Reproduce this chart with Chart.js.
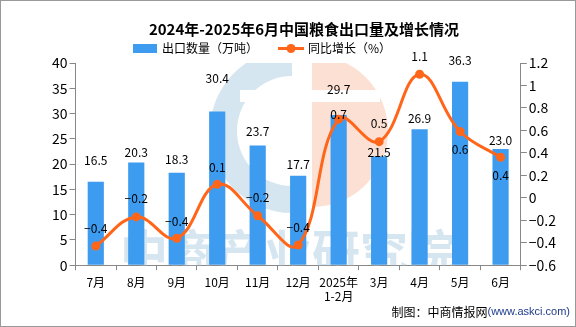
<!DOCTYPE html>
<html>
<head>
<meta charset="utf-8">
<script src="https://cdn.jsdelivr.net/npm/chart.js@4.4.1/dist/chart.umd.min.js"></script>
<style>
  html, body { margin: 0; padding: 0; background: #fff; }
</style>
</head>
<body>
<canvas id="grafico" width="576" height="327"></canvas>
<script>
// dados
const meses = ['7月', '8月', '9月', '10月', '11月', '12月', ['2025年', '1-2月'], '3月', '4月', '5月', '6月'];
const exportacao = [16.5, 20.3, 18.3, 30.4, 23.7, 17.7, 29.7, 21.5, 26.9, 36.3, 23.0];
const crescimento = [-0.43, -0.17, -0.36, 0.12, -0.16, -0.42, 0.70, 0.50, 1.10, 0.59, 0.36];
const legendas = ['出口数量（万吨）', '同比增长（%）'];

// deslocamento vertical dos rótulos (px, relativo ao topo da barra / ao ponto)
const desvioBarra = [15, 4, 7, 27, 8, 5, 20, -2, 5, 15, 2];
const desvioLinha = [-18, -18, -17, -17, -18, -18, -5, -18, -18, 18, 18];

const corBarra = '#3D9CF0';
const corLinha = '#FF6619';
const fonte = '"Noto Sans CJK SC", "Noto Sans", sans-serif';
const menos = s => s.replace('-', '\u2212');

const marcaDagua = {
  id: 'marcaDagua',
  beforeDatasetsDraw(chart) {
    const { ctx, chartArea: a } = chart;
    ctx.save();
    ctx.beginPath();
    ctx.rect(a.left, a.top, a.right - a.left, a.bottom - a.top);
    ctx.clip();
    // logo
    ctx.fillStyle = '#D6E6F0';
    ctx.beginPath();
    ctx.arc(292, 131, 82, Math.PI / 2, Math.PI * 1.5);
    ctx.arc(292, 131, 55, Math.PI * 1.5, Math.PI / 2, true);
    ctx.fill();
    ctx.fillStyle = '#FCE0D3';
    ctx.beginPath();
    ctx.arc(312, 131, 76, -Math.PI / 2, Math.PI / 2);
    ctx.fill();
    ctx.fillStyle = '#fff';
    ctx.fillRect(240, 90, 140, 12);
    // texto
    ctx.fillStyle = 'rgba(200,222,236,0.75)';
    ctx.font = 'bold 48px ' + fonte;
    ctx.textAlign = 'center';
    ctx.textBaseline = 'top';
    ctx.fillText('中商产业研究院', 288, 228);
    ctx.restore();
  }
};

const rotulos = {
  id: 'rotulos',
  afterDatasetsDraw(chart) {
    const { ctx } = chart;
    ctx.save();
    ctx.font = '12px ' + fonte;
    ctx.fillStyle = '#000';
    ctx.textAlign = 'center';
    ctx.textBaseline = 'middle';
    chart.getDatasetMeta(0).data.forEach((bar, i) => {
      ctx.fillText(exportacao[i].toFixed(1), bar.x, bar.y - 6 - desvioBarra[i]);
    });
    chart.getDatasetMeta(1).data.forEach((pt, i) => {
      ctx.fillText(menos(crescimento[i].toFixed(1)), pt.x, pt.y + desvioLinha[i]);
    });
    ctx.restore();
  },
  afterDraw(chart) {
    const { ctx, width, height } = chart;
    ctx.save();
    // legenda
    ctx.textBaseline = 'middle';
    ctx.textAlign = 'left';
    ctx.font = '12px ' + fonte;
    ctx.fillStyle = corBarra;
    ctx.fillRect(133, 44, 24, 9);
    ctx.fillStyle = '#000';
    ctx.fillText(legendas[0], 162, 48.5);
    ctx.strokeStyle = corLinha;
    ctx.lineWidth = 3;
    ctx.beginPath(); ctx.moveTo(278, 48.5); ctx.lineTo(304, 48.5); ctx.stroke();
    ctx.fillStyle = corLinha;
    ctx.beginPath(); ctx.arc(291, 48.5, 4.5, 0, Math.PI * 2); ctx.fill();
    ctx.fillStyle = '#000';
    ctx.fillText(legendas[1], 308, 48.5);
    // rodapé
    ctx.font = '11px "Liberation Sans", sans-serif';
    const url = '(www.askci.com)';
    const wUrl = ctx.measureText(url).width;
    ctx.font = '12px ' + fonte;
    const txt = '制图：中商情报网';
    const wTxt = ctx.measureText(txt).width;
    const x0 = 570 - wUrl - wTxt;
    ctx.fillStyle = '#000';
    ctx.fillText(txt, x0, 312);
    ctx.font = '11px "Liberation Sans", sans-serif';
    ctx.fillStyle = '#1F3C8C';
    ctx.fillText(url, x0 + wTxt, 312);
    ctx.strokeStyle = '#999';
    ctx.lineWidth = 1;
    ctx.strokeRect(0.5, 0.5, width - 1, height - 1);
    ctx.restore();
  }
};

const ctx = document.getElementById('grafico').getContext('2d');

const chart = new Chart(ctx, {
  type: 'bar',
  data: {
    labels: meses,
    datasets: [
      {
        label: legendas[0],
        data: exportacao,
        backgroundColor: corBarra,
        yAxisID: 'y',
        barPercentage: 0.4,
        categoryPercentage: 1,
        order: 1
      },
      {
        type: 'line',
        label: legendas[1],
        data: crescimento,
        borderColor: corLinha,
        backgroundColor: corLinha,
        borderWidth: 3,
        pointRadius: 4.5,
        pointBackgroundColor: corLinha,
        pointBorderWidth: 0,
        tension: 0.4,
        yAxisID: 'y1',
        order: 0
      }
    ]
  },
  options: {
    responsive: false,
    animation: false,
    layout: { padding: { left: 50, right: 18, bottom: 18 } },
    plugins: {
      tooltip: { enabled: false },
      legend: { display: false },
      title: {
        display: true,
        text: '2024年-2025年6月中国粮食出口量及增长情况',
        color: '#000',
        font: { family: fonte, size: 15, weight: 'bold' },
        padding: { top: 20, bottom: 25 }
      }
    },
    scales: {
      x: {
        grid: { drawOnChartArea: false, drawTicks: true, tickLength: 5, color: '#888', offset: true },
        border: { color: '#888' },
        ticks: { color: '#000', font: { family: fonte, size: 12 }, padding: 5, maxRotation: 0, autoSkip: false }
      },
      y: {
        position: 'left',
        min: 0,
        max: 40,
        grid: { drawOnChartArea: false, tickLength: 6, color: '#888' },
        border: { color: '#888' },
        ticks: { stepSize: 5, color: '#000', font: { family: fonte, size: 14 }, padding: 2 }
      },
      y1: {
        position: 'right',
        min: -0.6,
        max: 1.2,
        grid: { drawOnChartArea: false, tickLength: 6, color: '#888' },
        border: { color: '#888' },
        ticks: {
          stepSize: 0.2,
          color: '#000',
          font: { family: fonte, size: 14 },
          padding: 2,
          callback: v => menos(String(Math.round(v * 10) / 10))
        }
      }
    }
  },
  plugins: [marcaDagua, rotulos]
});
</script>
</body>
</html>
